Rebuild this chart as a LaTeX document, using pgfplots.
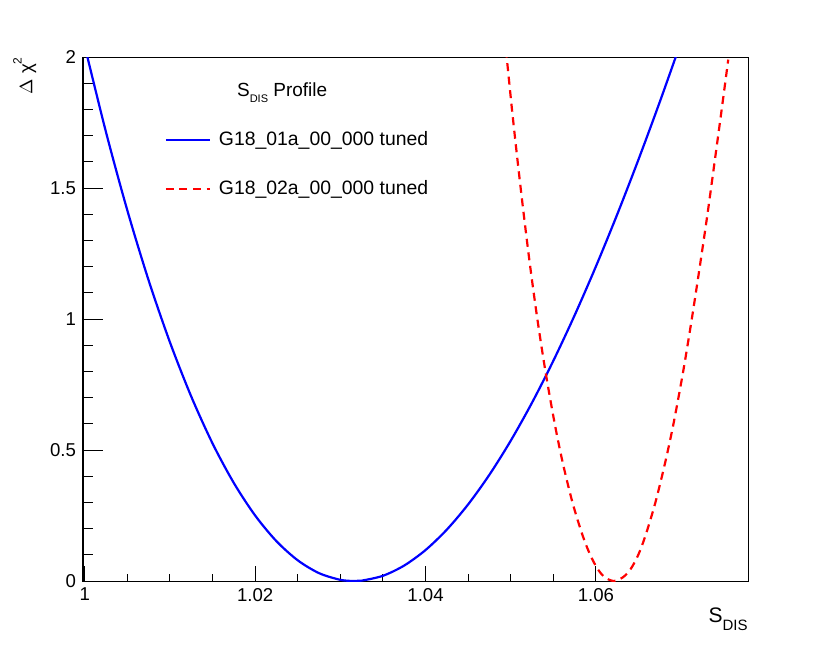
\documentclass[border=0pt]{standalone}
\usepackage{fontspec}
\setmainfont{Liberation Sans}
\usepackage{pgfplots}
\pgfplotsset{compat=1.18}
\definecolor{rootblue}{RGB}{0,0,255}
\definecolor{rootred}{RGB}{255,0,0}
\begin{document}
\begin{tikzpicture}
\begin{axis}[
  name=main,
  scale only axis,
  width=332.5pt, height=262pt,
  xmin=0.99979, xmax=1.07786,
  ymin=0, ymax=2,
  xtick={1,1.02,1.04,1.06},
  xticklabels={1,1.02,1.04,1.06},
  minor x tick num=3,
  ytick={0,0.5,1,1.5,2},
  yticklabels={0,0.5,1,1.5,2},
  minor y tick num=4,
  tick pos=left,
  tick align=inside,
  axis line style={line width=0.5pt, black},
  xtick style={line width=0.5pt, black, /pgfplots/major tick length=7.5pt, /pgfplots/minor tick length=3.75pt},
  ytick style={line width=0.5pt, black, /pgfplots/major tick length=10pt, /pgfplots/minor tick length=5pt},
  /pgf/number format/assume math mode=true,
  ticklabel style={font=\fontsize{9.3}{10}\selectfont},
  xlabel={S\raisebox{-4pt}{\fontsize{7.5}{8}\selectfont DIS}},
  xlabel style={at={(axis description cs:1,-0.0496)}, anchor=north east, inner sep=0pt, font=\fontsize{10.5}{12}\selectfont},
  ylabel={$\Delta$ χ\raisebox{1.1ex}{\fontsize{6}{6}\selectfont 2}},
  ylabel style={at={(axis description cs:-0.0696,1)}, anchor=south east, rotate=0, inner sep=0pt, font=\fontsize{9.3}{10}\selectfont},
  legend style={at={(axis description cs:0.1223,0.866)}, anchor=north west, draw=none, fill=none, inner sep=0pt,
    font=\fontsize{9.7}{10}\selectfont, row sep=12pt,
    /tikz/every odd column/.append style={column sep=2pt}},
  legend cell align=left,
  legend image code/.code={\draw[#1] (0pt,0pt) -- (22pt,0pt);},
]
\addplot[rootblue, line width=1.1pt, smooth] coordinates {
(1.0000,2.041) (1.0025,1.712) (1.0050,1.414) (1.0075,1.147) (1.0100,0.911)
(1.0125,0.704) (1.0150,0.525) (1.0175,0.374) (1.0200,0.250) (1.0225,0.152)
(1.0250,0.079) (1.0275,0.030) (1.0300,0.0045) (1.0316,0) (1.0325,0.0014)
(1.0350,0.0199) (1.0375,0.0591) (1.0400,0.1181) (1.0425,0.1961) (1.0450,0.2922)
(1.0475,0.4055) (1.0500,0.5352) (1.0525,0.6804) (1.0550,0.8402) (1.0575,1.0138)
(1.0600,1.2003) (1.0625,1.3988) (1.0650,1.6085) (1.0675,1.8284) (1.0700,2.0578)
};
\addlegendentry{G18\_01a\_00\_000 tuned}
\addplot[rootred, line width=1.1pt, dash pattern=on 4pt off 2.8pt, smooth] coordinates {
(1.04929,2.08) (1.04953,2.00) (1.05015,1.80) (1.05082,1.60) (1.05153,1.40)
(1.05229,1.20) (1.05313,1.00) (1.05408,0.80) (1.05517,0.60) (1.05612,0.45)
(1.05725,0.30) (1.05843,0.175) (1.05933,0.10) (1.06019,0.047) (1.06102,0.015)
(1.06210,0.000)
(1.06321,0.015) (1.06411,0.047) (1.06498,0.10) (1.06584,0.175) (1.06699,0.30)
(1.06812,0.45) (1.06911,0.60) (1.07025,0.80) (1.07126,1.00) (1.07220,1.20)
(1.07310,1.40) (1.07394,1.60) (1.07477,1.80) (1.07554,1.99)
};
\addlegendentry{G18\_02a\_00\_000 tuned}
\node[anchor=base west, inner sep=0pt, font=\fontsize{9.5}{10}\selectfont] at (axis description cs:0.2311,0.9242)
  {S\raisebox{-3.1pt}{\fontsize{5.5}{6}\selectfont DIS} Profile};
\end{axis}
\pgfresetboundingbox
\path (main.south west) ++(-41.5pt,-37pt) rectangle ++(415pt,327.5pt);
\end{tikzpicture}
\end{document}
